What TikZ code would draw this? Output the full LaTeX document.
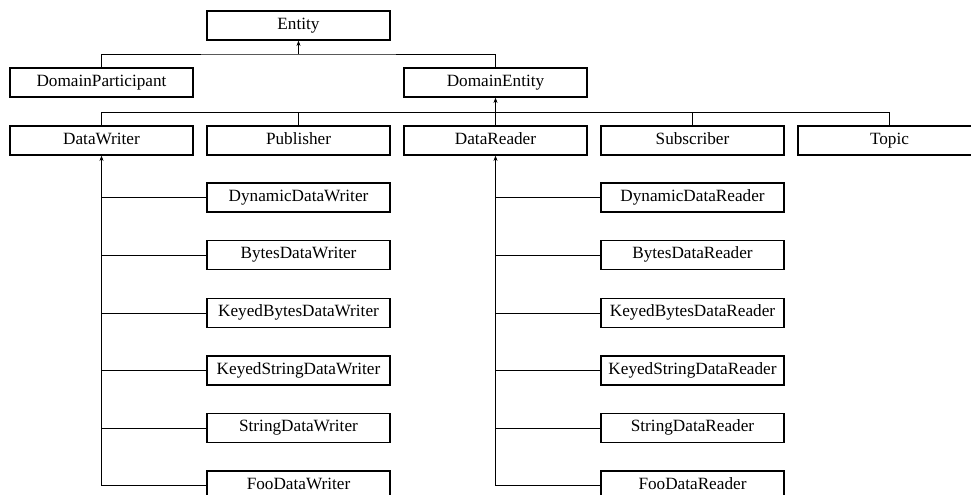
\documentclass[tikz,border=0pt]{standalone}
\usepackage{fontspec}
\setmainfont{Liberation Serif}
\usetikzlibrary{arrows.meta}
\tikzset{
  classbox/.style={draw, line width=0.9pt, minimum width=137.25pt, minimum height=21.75pt, inner sep=0pt, text height=1.6ex, text depth=0.45ex, font=\fontsize{12.9}{14}\selectfont},
  inherit/.style={line width=0.6pt},
  toparent/.style={line width=0.6pt, -{Stealth[length=4pt,width=3pt]}},
}

\begin{document}
\begin{tikzpicture}[x=0.75pt,y=-0.75pt]
    \useasboundingbox (0,0) rectangle (971,495);

    % ----- top of the tree
    \node[classbox] (ent) at (298.5,25.5) {Entity};
    \node[classbox] (dpart) at (101.5,82.5) {DomainParticipant};
    \node[classbox] (dent) at (495.5,82.5) {DomainEntity};

    % ----- children of DomainEntity
    \foreach \x/\name/\txt in {101.5/dwriter/DataWriter,298.5/pub/Publisher,495.5/dreader/DataReader,692.5/sub/Subscriber,889.5/topic/Topic}
        \node[classbox] (\name) at (\x,140.5) {\txt};

    % ----- writers and readers
    \foreach \y/\n/\kind in {197.5/1/Dynamic,255/2/Bytes,313/3/KeyedBytes,370.5/4/KeyedString,428/5/String,485.5/6/Foo}{
        \node[classbox] (w\n) at (298.5,\y) {\kind{}DataWriter};
        \node[classbox] (r\n) at (692.5,\y) {\kind{}DataReader};
    }

    % ----- connectors
    \coordinate (bus1) at (298.5,54);
    \draw[inherit] (dpart.north) |- (bus1) -| (dent.north);
    \draw[toparent] (bus1) -- (ent.south);

    \coordinate (bus2) at (495.5,112);
    \foreach \name in {dwriter, pub, dreader, sub, topic}
        \draw[inherit] (\name.north) |- (bus2);
    \draw[toparent] (bus2) -- (dent.south);

    \draw[toparent] (dwriter.south |- w6.west) -- (dwriter.south);
    \draw[toparent] (dreader.south |- r6.west) -- (dreader.south);
    \foreach \n in {1,...,6}{
        \draw[inherit] (w\n.west) -- (dwriter.south |- w\n.west);
        \draw[inherit] (r\n.west) -- (dreader.south |- r\n.west);
    }
\end{tikzpicture}
\end{document}
